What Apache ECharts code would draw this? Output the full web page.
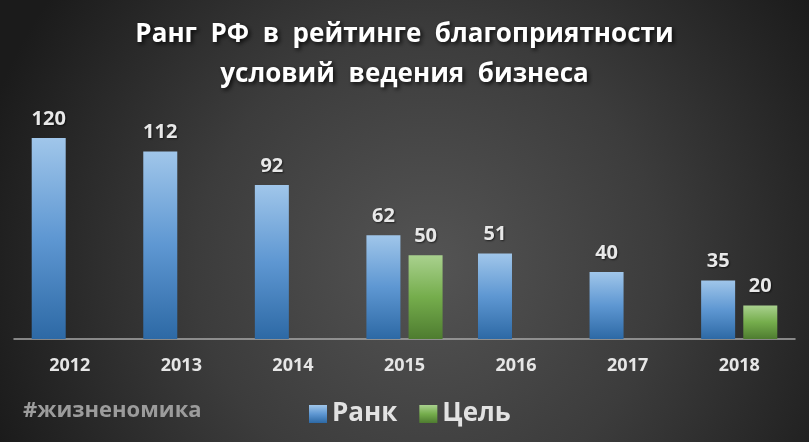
<!DOCTYPE html>
<html>
<head>
<meta charset="utf-8">
<script src="https://cdn.jsdelivr.net/npm/echarts@6/dist/echarts.min.js"></script>
<style>html,body{margin:0;padding:0;}#c{width:809px;height:442px;}</style>
</head>
<body>
<div id="c"></div>
<script>
const categories = ['2012', '2013', '2014', '2015', '2016', '2017', '2018'];
const rankValues = [120, 112, 92, 62, 51, 40, 35];
const goalValues = [null, null, null, 50, null, null, 20];
const seriesNames = ['Ранк', 'Цель'];
const titleText = 'Ранг  РФ  в  рейтинге  благоприятности\nусловий  ведения  бизнеса';
const tagText = '#жизненомика';

const FONT = '"Open Sans", "Noto Sans", sans-serif';
const chart = echarts.init(document.getElementById('c'));
const labelStyle = {
  show: true, position: 'top', distance: 9,
  color: '#e8e8e8', fontFamily: FONT, fontWeight: 'bold', fontSize: 20,
  textShadowColor: 'rgba(0,0,0,0.6)', textShadowBlur: 2, textShadowOffsetX: 1, textShadowOffsetY: 1
};
chart.setOption({
  backgroundColor: {
    type: 'radial', x: 0.53, y: 0.6, r: 1.05,
    colorStops: [
      { offset: 0, color: '#545454' },
      { offset: 0.5, color: '#3c3c3c' },
      { offset: 1, color: '#1b1b1b' }
    ]
  },
  title: {
    text: titleText,
    left: 'center', top: 10,
    textStyle: {
      color: '#ffffff', fontFamily: FONT, fontWeight: 'bold', fontSize: 26, lineHeight: 40,
      textShadowColor: 'rgba(0,0,0,0.8)', textShadowBlur: 4, textShadowOffsetX: 2, textShadowOffsetY: 2
    }
  },
  legend: {
    data: seriesNames,
    left: 304, top: 396,
    icon: 'rect', itemWidth: 18, itemHeight: 18, itemGap: 22,
    textStyle: { color: '#e2e2e2', fontFamily: FONT, fontWeight: 'bold', fontSize: 26, padding: [0, 0, 0, 0] }
  },
  graphic: [{
    type: 'text', left: 23, top: 400,
    style: { text: tagText, fill: '#9c9c9c', font: 'bold 22px ' + FONT }
  }],
  grid: { left: 14, right: 14, top: 138, bottom: 103 },
  xAxis: {
    type: 'category', data: categories,
    axisLine: { lineStyle: { color: '#a8a8a8', width: 1.5 } },
    axisTick: { show: false },
    axisLabel: { color: '#e6e6e6', fontFamily: FONT, fontWeight: 'bold', fontSize: 18, margin: 18 }
  },
  yAxis: { type: 'value', min: 0, max: 120, show: false, splitLine: { show: false } },
  series: [
    {
      name: seriesNames[0], type: 'bar', data: rankValues, barWidth: 34, barGap: '24%',
      itemStyle: { color: { type: 'linear', x: 0, y: 0, x2: 0, y2: 1, colorStops: [
        { offset: 0, color: '#a0c6ea' }, { offset: 0.5, color: '#5e97d2' }, { offset: 1, color: '#2d69a5' } ] } },
      label: labelStyle
    },
    {
      name: seriesNames[1], type: 'bar', data: goalValues, barWidth: 34,
      itemStyle: { color: { type: 'linear', x: 0, y: 0, x2: 0, y2: 1, colorStops: [
        { offset: 0, color: '#a9d18e' }, { offset: 0.5, color: '#75ad4c' }, { offset: 1, color: '#4e7c30' } ] } },
      label: labelStyle
    }
  ]
});
</script>
</body>
</html>
